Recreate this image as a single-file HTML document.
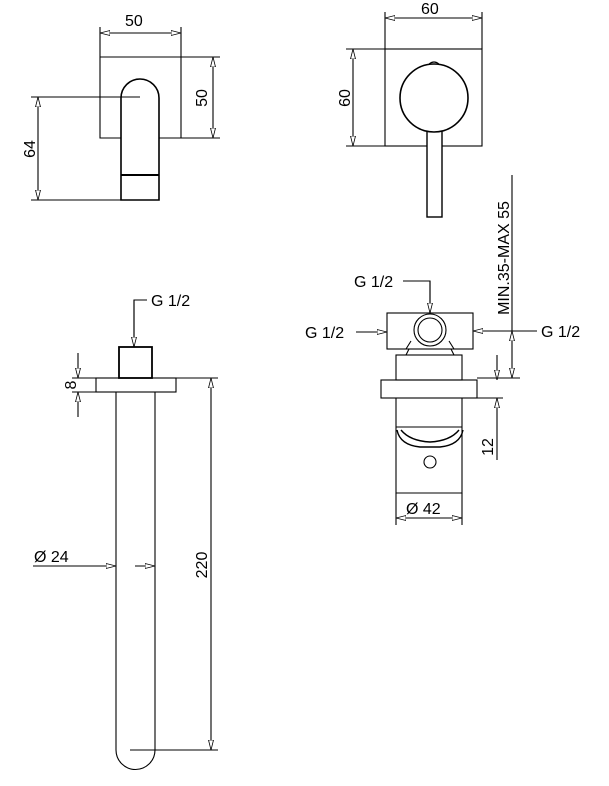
<!DOCTYPE html><html><head><style>body{margin:0;background:#fff}svg{display:block}text{font-family:"Liberation Sans",sans-serif;font-size:16px;fill:#000}</style></head><body>
<svg width="609" height="786" viewBox="0 0 609 786" xmlns="http://www.w3.org/2000/svg">
<defs><marker id="a" markerWidth="10" markerHeight="6" refX="10" refY="3" orient="auto-start-reverse" markerUnits="userSpaceOnUse"><path d="M0,0.5 L10,3 L0,5.5 Z" fill="#fff" stroke="#000" stroke-width="0.8"/></marker></defs>
<g stroke="#000" fill="none" stroke-width="1.1">
<line x1="100" y1="27" x2="100" y2="57"/><line x1="181" y1="27" x2="181" y2="57"/>
<line x1="100" y1="33" x2="181" y2="33" marker-start="url(#a)" marker-end="url(#a)"/>
<path d="M100,57 H181 V138 H159 M121,138 H100 V57"/>
<line x1="181" y1="57" x2="220" y2="57"/><line x1="181" y1="138" x2="220" y2="138"/>
<line x1="213" y1="57" x2="213" y2="138" marker-start="url(#a)" marker-end="url(#a)"/>
<path d="M121,200 V98 A19,19 0 0 1 159,98 V200 Z" stroke-width="1.6"/>
<line x1="121" y1="175" x2="159" y2="175" stroke-width="2"/>
<line x1="31" y1="97" x2="140" y2="97"/><line x1="31" y1="200" x2="121" y2="200"/>
<line x1="38" y1="97" x2="38" y2="200" marker-start="url(#a)" marker-end="url(#a)"/>
<line x1="385" y1="12" x2="385" y2="49"/><line x1="482" y1="12" x2="482" y2="49"/>
<line x1="385" y1="18" x2="482" y2="18" marker-start="url(#a)" marker-end="url(#a)"/>
<rect x="385" y="49" width="97" height="97"/>
<line x1="346" y1="49" x2="385" y2="49"/><line x1="346" y1="146" x2="385" y2="146"/>
<line x1="353" y1="49" x2="353" y2="146" marker-start="url(#a)" marker-end="url(#a)"/>
<rect x="427" y="131" width="15" height="86" fill="#fff" stroke-width="1.4"/>
<circle cx="434" cy="98" r="34" fill="#fff" stroke-width="1.6"/>
<path d="M429,64 Q434,60 439,64"/>
<rect x="119" y="347" width="33" height="31" stroke-width="1.8"/>
<rect x="96" y="378" width="80" height="14"/>
<path d="M116,392 V750 A19.5,19.5 0 0 0 155,750 V392"/>
<path d="M134,347 V300 H147"/>
<line x1="134" y1="300" x2="134" y2="347" marker-end="url(#a)"/>
<line x1="176" y1="378" x2="218" y2="378"/><line x1="130" y1="750" x2="218" y2="750"/>
<line x1="211" y1="378" x2="211" y2="750" marker-start="url(#a)" marker-end="url(#a)"/>
<line x1="72" y1="378" x2="96" y2="378"/><line x1="72" y1="392" x2="96" y2="392"/>
<line x1="78" y1="353" x2="78" y2="378" marker-end="url(#a)"/>
<line x1="78" y1="417" x2="78" y2="392" marker-end="url(#a)"/>
<line x1="33" y1="566" x2="116" y2="566" marker-end="url(#a)"/>
<line x1="155" y1="566" x2="135" y2="566" marker-start="url(#a)"/>
<rect x="387" y="313" width="86" height="36"/>
<path d="M406,349 L411,341 M454,349 L449,341"/>
<rect x="396" y="355" width="66" height="25"/>
<path d="M406,355 L409,349 H451 L454,355"/>
<circle cx="430" cy="330" r="16" fill="#fff"/><circle cx="430" cy="330" r="12"/>
<rect x="381" y="380" width="96" height="18"/>
<path d="M396,398 V493 H462 V398"/>
<path d="M396,427 H462"/>
<path d="M397,430 Q400,445 420,447 H440 Q460,445 463,430 M401,430 Q410,441 430,442 Q450,441 459,430" stroke-width="1.4"/>
<circle cx="430" cy="462" r="6"/>
<line x1="396" y1="493" x2="396" y2="525"/><line x1="462" y1="493" x2="462" y2="525"/>
<line x1="396" y1="518" x2="462" y2="518" marker-start="url(#a)" marker-end="url(#a)"/>
<path d="M403,281 H430 V313"/><line x1="430" y1="281" x2="430" y2="313" marker-end="url(#a)"/>
<line x1="356" y1="332" x2="387" y2="332" marker-end="url(#a)"/>
<line x1="537" y1="331" x2="473" y2="331" marker-end="url(#a)"/>
<line x1="512" y1="175" x2="512" y2="331"/>
<line x1="512" y1="331" x2="512" y2="378" marker-start="url(#a)" marker-end="url(#a)"/>
<line x1="477" y1="378" x2="520" y2="378"/><line x1="477" y1="398" x2="503" y2="398"/>
<line x1="497" y1="355" x2="497" y2="380" marker-end="url(#a)"/>
<line x1="497" y1="460" x2="497" y2="398" marker-end="url(#a)"/>
</g>
<text x="125" y="26">50</text>
<text transform="translate(207,98) rotate(-90)" text-anchor="middle">50</text>
<text transform="translate(35,149) rotate(-90)" text-anchor="middle">64</text>
<text x="421" y="14">60</text>
<text transform="translate(350,98) rotate(-90)" text-anchor="middle">60</text>
<text x="151" y="306">G 1/2</text>
<text transform="translate(76,385) rotate(-90)" text-anchor="middle">8</text>
<text transform="translate(207,565) rotate(-90)" text-anchor="middle">220</text>
<text x="34" y="562">Ø  24</text>
<text x="354" y="287">G 1/2</text>
<text x="305" y="338">G 1/2</text>
<text x="541" y="337">G 1/2</text>
<text transform="translate(509,258) rotate(-90)" text-anchor="middle">MIN.35-MAX 55</text>
<text transform="translate(493,447) rotate(-90)" text-anchor="middle">12</text>
<text x="406" y="514">Ø  42</text>
</svg></body></html>
